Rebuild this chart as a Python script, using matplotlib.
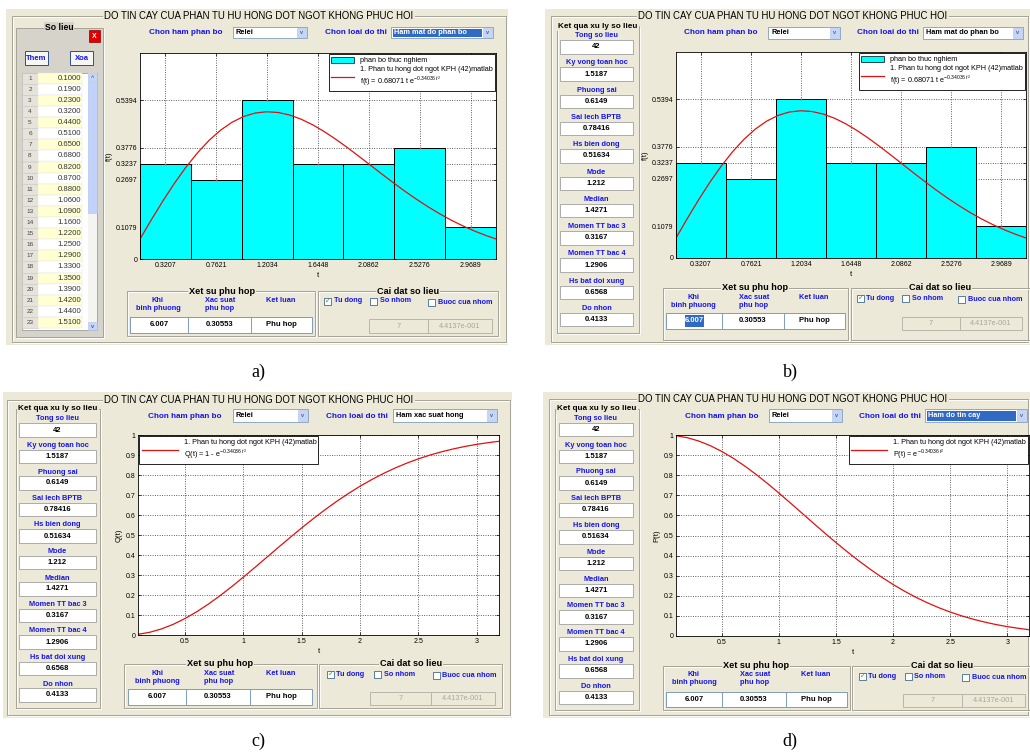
import matplotlib
matplotlib.use('Agg')
import matplotlib.pyplot as plt
from matplotlib.patches import Rectangle, Patch
from matplotlib.lines import Line2D

plt.rcParams['font.family'] = ['Liberation Sans', 'DejaVu Sans']
plt.rcParams['mathtext.fontset'] = 'custom'
plt.rcParams['mathtext.rm'] = 'Liberation Sans'
plt.rcParams['mathtext.it'] = 'Liberation Sans:italic'

# ---- data ----
bin_centers = [0.3207, 0.7621, 1.2034, 1.6448, 2.0862, 2.5276, 2.9689]
bin_heights = [0.3237, 0.2697, 0.5394, 0.3237, 0.3237, 0.3776, 0.1079]
bin_width = 0.44137

t_fit = [0.1, 0.2, 0.3, 0.4, 0.5, 0.6, 0.7, 0.8, 0.9, 1.0, 1.1, 1.2, 1.3, 1.4, 1.5, 1.6,
         1.7, 1.8, 1.9, 2.0, 2.1, 2.2, 2.3, 2.4, 2.5, 2.6, 2.7, 2.8, 2.9, 3.0, 3.1, 3.19]
f_fit = [0.0678, 0.1343, 0.1981, 0.2579, 0.3126, 0.3613, 0.4033, 0.4380, 0.4650, 0.4844,
         0.4960, 0.5004, 0.4978, 0.4891, 0.4748, 0.4557, 0.4327, 0.4067, 0.3785, 0.3489,
         0.3187, 0.2884, 0.2587, 0.2300, 0.2028, 0.1774, 0.1537, 0.1322, 0.1128, 0.0955,
         0.0802, 0.0680]
p_fit = [0.9966, 0.9865, 0.9698, 0.9470, 0.9184, 0.8847, 0.8464, 0.8043, 0.7591, 0.7115,
         0.6624, 0.6126, 0.5626, 0.5132, 0.4650, 0.4184, 0.3740, 0.3320, 0.2927, 0.2563,
         0.2229, 0.1926, 0.1652, 0.1408, 0.1192, 0.1002, 0.0837, 0.0694, 0.0571, 0.0467,
         0.0380, 0.0313]
q_fit = [0.0034, 0.0135, 0.0302, 0.0530, 0.0816, 0.1153, 0.1536, 0.1957, 0.2409, 0.2885,
         0.3376, 0.3874, 0.4374, 0.4868, 0.5350, 0.5816, 0.6261, 0.6680, 0.7073, 0.7437,
         0.7771, 0.8074, 0.8348, 0.8592, 0.8808, 0.8998, 0.9163, 0.9306, 0.9429, 0.9533,
         0.9620, 0.9687]

raw_values = ['0.1000', '0.1900', '0.2300', '0.3200', '0.4400', '0.5100', '0.6500', '0.6800',
              '0.8200', '0.8700', '0.8800', '1.0600', '1.0900', '1.1600', '1.2200', '1.2500',
              '1.2900', '1.3300', '1.3500', '1.3900', '1.4200', '1.4400', '1.5100']

stat_labels = ['Tong so lieu', 'Ky vong toan hoc', 'Phuong sai', 'Sai lech BPTB', 'Hs bien dong',
               'Mode', 'Median', 'Momen TT bac 3', 'Momen TT bac 4', 'Hs bat doi xung', 'Do nhon']
stat_values = ['42', '1.5187', '0.6149', '0.78416', '0.51634', '1.212', '1.4271', '0.3167',
               '1.2906', '0.6568', '0.4133']

fit_heads = ['Khi\nbinh phuong', 'Xac suat\nphu hop', 'Ket luan']
fit_values = ['6.007', '0.30553', 'Phu hop']
group_values = ['7', '4.4137e-001']

title = 'DO TIN CAY CUA PHAN TU HU HONG DOT NGOT KHONG PHUC HOI'
series_name = '1. Phan tu hong dot ngot KPH (42)matlab'

W, H = 1030, 756
PANEL = '#ECE9D8'
BLUE = '#1414E8'
RED = '#E01010'
CYAN = '#00FFFF'

fig = plt.figure(figsize=(W / 100, H / 100), dpi=100)
bg = fig.add_axes([0, 0, 1, 1])
bg.set_xlim(0, W)
bg.set_ylim(H, 0)
bg.axis('off')


def rect(x0, y0, x1, y1, fc='none', ec='none', lw=0.6, z=1):
    bg.add_patch(Rectangle((x0, y0), x1 - x0, y1 - y0, facecolor=fc, edgecolor=ec,
                           linewidth=lw, zorder=z))


def txt(x, y, s, size=5.5, color='black', weight='normal', ha='center', va='center', z=6, **kw):
    bg.text(x, y, s, fontsize=size, color=color, fontweight=weight, ha=ha, va=va, zorder=z, **kw)


def group(x0, y0, x1, y1, name, tx, fc=None, size=6.5, weight='bold', tfc=PANEL):
    rect(x0 + 1, y0 + 1, x1 + 1, y1 + 1, ec='white', lw=0.6, z=1.8)
    rect(x0, y0, x1, y1, fc=fc if fc else 'none', ec='#A5A398', lw=0.7, z=2)
    txt(tx, y0, name, size=size, weight=weight, bbox=dict(fc=tfc, ec='none', pad=0.8))


def window(x0, y0, x1, y1, fr, tx):
    rect(x0, y0, x1, y1, fc=PANEL, z=0.5)
    rect(fr[0] + 1, fr[1] + 1, fr[2] + 1, fr[3] + 1, ec='white', lw=0.6, z=0.9)
    rect(*fr, ec='#A5A398', lw=0.7, z=1)
    txt(tx, fr[1], title, size=6.9, bbox=dict(fc=PANEL, ec='none', pad=0.8))


def dropdown(box, s, sel=False):
    x0, y0, x1, y1 = box
    rect(x0, y0, x1, y1, fc='white', ec='#7F9DB9', lw=0.6, z=3)
    if sel:
        rect(x0 + 1.5, y0 + 1.5, x1 - 11, y1 - 1.5, fc='#316AC5', z=3.5)
    rect(x1 - 10, y0 + 1, x1 - 1, y1 - 1, fc='#C6D5F7', ec='#AFC3EE', lw=0.4, z=3.6)
    txt(x1 - 5.5, (y0 + y1) / 2, 'v', size=4, color='#4D6185', weight='bold')
    txt(x0 + 3, (y0 + y1) / 2, s, size=5.3, color='white' if sel else 'black',
        weight='bold', ha='left')


def header(y, l1x, dd1, l2x, dd2, dd2txt, sel):
    txt(l1x, y, 'Chon ham phan bo', size=5.9, color=BLUE, weight='bold')
    dropdown(dd1, 'Relei')
    txt(l2x, y, 'Chon loai do thi', size=5.9, color=BLUE, weight='bold')
    dropdown(dd2, dd2txt, sel)


def checkbox(x, y, label, checked=False):
    rect(x, y - 3.5, x + 7, y + 3.5, fc='white', ec='#1C5180', lw=0.5, z=3)
    if checked:
        txt(x + 3.6, y, '\u2713', size=5, color='#21A121', weight='bold', family='DejaVu Sans')
    txt(x + 9.5, y, label, size=5.2, color=BLUE, weight='bold', ha='left')


def stats(gx0, gy0, gx1, gy1, bx0, bx1, ly0, step, bh=13.5, boff=4.5):
    group(gx0, gy0, gx1, gy1, 'Ket qua xu ly so lieu', (gx0 + gx1) / 2, size=5.9)
    for i, (lab, val) in enumerate(zip(stat_labels, stat_values)):
        ly = ly0 + i * step
        txt((bx0 + bx1) / 2, ly, lab, size=5.3, color=BLUE, weight='bold')
        rect(bx0, ly + boff, bx1, ly + boff + bh, fc='white', ec='#A0A0A0', lw=0.6, z=3)
        txt((bx0 + bx1) / 2, ly + boff + bh / 2, val, size=5.5, weight='bold')


def fitgroup(g, tx, htop, hxs, cx, cy0, cy1, sel=False):
    group(*g, 'Xet su phu hop', tx, size=6.6)
    for hx, hd in zip(hxs, fit_heads):
        txt(hx, htop, hd, size=5.3, color=BLUE, weight='bold', va='top', linespacing=1.2)
    rect(cx[0], cy0, cx[-1], cy1, fc='white', ec='#7F9DB9', lw=0.7, z=3)
    for xs in cx[1:-1]:
        bg.plot([xs, xs], [cy0, cy1], color='#7F9DB9', lw=0.7, zorder=3.5)
    for i, v in enumerate(fit_values):
        xc = (cx[i] + cx[i + 1]) / 2
        col = 'black'
        if sel and i == 0:
            rect(xc - 9.5, cy0 + 2, xc + 9.5, cy1 - 2, fc='#316AC5', z=4)
            col = 'white'
        txt(xc, (cy0 + cy1) / 2, v, size=5.5, weight='bold', color=col)


def settings(g, tx, cy, cxs, bx, by0, by1):
    group(*g, 'Cai dat so lieu', tx, size=6.6)
    checkbox(cxs[0], cy, 'Tu dong', True)
    checkbox(cxs[1], cy, 'So nhom')
    checkbox(cxs[2], cy + 1.5, 'Buoc cua nhom')
    for i in range(2):
        rect(bx[i], by0, bx[i + 1], by1, fc=PANEL, ec='#B8B6AC', lw=0.7, z=3)
        txt((bx[i] + bx[i + 1]) / 2, (by0 + by1) / 2, group_values[i], size=5.3, color='#A9A79C')


def new_axes(x0, y0, x1, y1):
    ax = fig.add_axes([x0 / W, 1 - y1 / H, (x1 - x0) / W, (y1 - y0) / H])
    ax.set_zorder(10)
    ax.set_facecolor('white')
    ax.tick_params(direction='in', length=2.5, width=0.5, labelsize=5, pad=2,
                   top=True, right=True)
    for s in ax.spines.values():
        s.set_linewidth(0.6)
    ax.grid(True, color='black', linestyle=(0, (1.2, 2.2)), linewidth=0.5)
    ax.set_axisbelow(True)
    ax.set_xlim(bin_centers[0] - bin_width / 2, bin_centers[-1] + bin_width / 2)
    return ax


def style_legend(leg):
    fr = leg.get_frame()
    fr.set_edgecolor('black')
    fr.set_linewidth(0.6)


def hist_axes(box):
    ax = new_axes(*box)
    ax.bar(bin_centers, bin_heights, width=bin_width, color=CYAN, edgecolor='black', linewidth=0.7)
    ax.plot(bin_centers, bin_heights, 's', color='#D04040', ms=1.2, mew=0)
    ax.plot(t_fit, f_fit, color=RED, lw=0.9)
    ax.set_ylim(0, 0.7)
    ticks = sorted(set([0] + bin_heights))
    ax.set_yticks(ticks)
    ax.set_yticklabels(['0'] + ['%.4f' % v for v in ticks[1:]])
    ax.set_xticks(bin_centers)
    ax.set_xticklabels(['%.4f' % v for v in bin_centers])
    ax.set_xlabel('t', fontsize=5.5, labelpad=2)
    ax.set_ylabel('f(t)', fontsize=5.5, labelpad=2)
    handles = [Patch(facecolor=CYAN, edgecolor='black', linewidth=0.5),
               Line2D([], [], color=RED, lw=0.9)]
    labels = ['phan bo thuc nghiem',
              series_name + '\nf(t) = 0.68071 t e$^{-0.34036\\,t^2}$']
    leg = ax.legend(handles, labels, loc='upper right', fontsize=5.2, fancybox=False,
                    framealpha=1, borderaxespad=0.2, handlelength=3.2, handleheight=1.0,
                    labelspacing=0.2, borderpad=0.3)
    style_legend(leg)


def curve_axes(box, vals, ylab, lab, loc):
    ax = new_axes(*box)
    ax.plot(t_fit, vals, color=RED, lw=0.9)
    ax.set_ylim(0, 1)
    ax.set_yticks([i / 10 for i in range(11)])
    ax.set_yticklabels(['0'] + ['%.1f' % (i / 10) for i in range(1, 10)] + ['1'])
    ax.set_xticks([0.5, 1, 1.5, 2, 2.5, 3])
    ax.set_xticklabels(['0.5', '1', '1.5', '2', '2.5', '3'])
    ax.set_xlabel('t', fontsize=5.5, labelpad=2)
    ax.set_ylabel(ylab, fontsize=5.5, labelpad=2)
    leg = ax.legend([Line2D([], [], color=RED, lw=0.9)], [series_name + '\n' + lab], loc=loc,
                    fontsize=5.2, fancybox=False, framealpha=1, borderaxespad=0.2,
                    handlelength=5, borderpad=0.3)
    style_legend(leg)


# ---------------- panel a ----------------
window(6, 9, 508, 345, (12, 16, 506, 342), 259)
group(16, 28, 103, 337, 'So lieu', 59, fc='#D6D3CB', size=6.2, tfc='#D6D3CB')
rect(89, 30, 100, 42, fc='#E00000', ec='#900000', lw=0.5, z=3)
txt(94.5, 36, 'X', size=5, color='white', weight='bold')
for bx0, bx1, name in [(25, 48, 'Them'), (70, 93, 'Xoa')]:
    rect(bx0, 51, bx1, 65, fc='#F6F6F2', ec='#2F4F8F', lw=0.7, z=3)
    txt((bx0 + bx1) / 2, 58, name, size=5.5, color=BLUE, weight='bold')
rect(22, 72.5, 97, 330, fc='white', ec='#9C9C9C', lw=0.6, z=3)
row_h = 11.1
for i, v in enumerate(raw_values):
    y0 = 72.7 + i * row_h
    rect(22, y0, 38, y0 + row_h, fc='#E6E3DB', ec='#C8C6BE', lw=0.4, z=3.2)
    rect(38, y0, 82, y0 + row_h, fc='#FFFFD2' if i % 2 == 0 else 'white', ec='#E4E4E4',
         lw=0.3, z=3.2)
    txt(30, y0 + row_h / 2, str(i + 1), size=4.6, color='#444444')
    txt(81, y0 + row_h / 2, v, size=5.6, color='#333333', ha='right')
rect(88, 73, 97, 330, fc='#F4F4F0', z=3.3)
rect(88, 73, 97, 81, fc='#C6D5F7', ec='#AFC3EE', lw=0.4, z=3.4)
rect(88, 82, 97, 213, fc='#C1D3FB', ec='#AFC3EE', lw=0.4, z=3.4)
rect(88, 322, 97, 330, fc='#C6D5F7', ec='#AFC3EE', lw=0.4, z=3.4)
txt(92.5, 77, '^', size=4, color='#4D6185', weight='bold')
txt(92.5, 326, 'v', size=4, color='#4D6185', weight='bold')
header(32, 186, (233, 27, 307, 38), 356, (391, 27, 493, 38), 'Ham mat do phan bo', True)
hist_axes((140, 53, 496, 259))
fitgroup((127, 291, 315, 336), 222, 296.5, [158, 220, 281], [130, 188, 251, 312], 317, 333)
settings((318, 291, 498, 336), 408, 301, [324, 370, 428], [369, 428, 492], 319, 333)

# ---------------- panel b ----------------
window(545, 9, 1030, 345, (551, 16, 1028, 342), 793)
stats(557, 26, 639, 333, 560, 633, 35.7, 27.26)
header(33, 721, (768, 27, 840, 39), 888, (923, 27, 1023, 39), 'Ham mat do phan bo', False)
hist_axes((676, 52, 1026, 258))
fitgroup((663, 288, 848, 340), 755, 294, [693, 754, 814], [666, 722, 784, 845], 313, 329, True)
settings((851, 288, 1030, 340), 940, 298, [857, 902, 958], [902, 960, 1022], 317, 330)

# ---------------- panel c ----------------
window(3, 392, 512, 718, (7, 400, 510, 715), 259)
stats(16, 409, 100, 708, 19, 96, 419, 26.5, bh=13.4, boff=4.3)
header(416, 185, (233, 409, 308, 422), 357, (393, 409, 497, 422), 'Ham xac suat hong', False)
curve_axes((138, 435, 499, 635), q_fit, 'Q(t)', 'Q(t) = 1 - e$^{-0.34036\\,t^2}$', 'upper left')
fitgroup((124, 664, 317, 708), 220, 670, [157, 219, 281], [128, 186, 250, 312], 689, 705)
settings((319, 664, 502, 708), 411, 674, [327, 374, 433], [370, 431, 495], 692, 705)

# ---------------- panel d ----------------
window(543, 392, 1030, 718, (549, 399, 1028, 715), 793)
stats(555, 409, 639, 710, 559, 633, 418.3, 26.8)
header(416, 722, (769, 409, 842, 422), 890, (925, 409, 1027, 422), 'Ham do tin cay', True)
curve_axes((676, 435, 1029, 636), p_fit, 'P(t)', 'P(t) = e$^{-0.34036\\,t^2}$', 'upper right')
fitgroup((663, 666, 850, 710), 756, 671, [694, 755, 816], [666, 722, 786, 847], 692, 707)
settings((852, 666, 1030, 710), 942, 676, [859, 905, 962], [903, 962, 1025], 694, 707)

# captions
for x, y, c in [(258, 372, 'a)'), (790, 372, 'b)'), (258, 741, 'c)'), (790, 741, 'd)')]:
    txt(x, y, c, size=13, family='Liberation Serif')

fig.savefig('out.png', dpi=100)
